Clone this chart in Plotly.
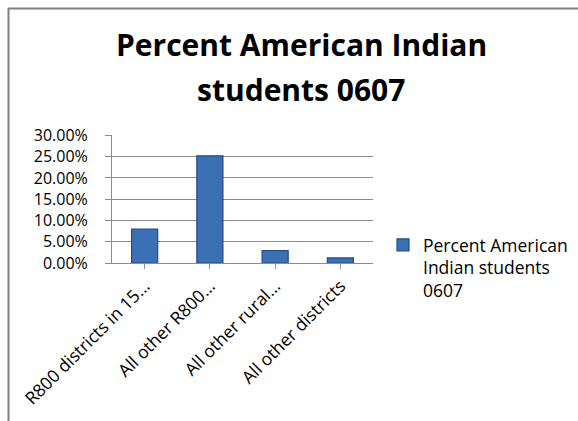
import plotly.graph_objects as go

# Chart data
categories = ["R800 districts in 15…", "All other R800…", "All other rural…", "All other districts"]
pct_values = [0.080, 0.252, 0.029, 0.012]
series_name = "Percent American<br>Indian students<br>0607"
y_ticks = [0, 0.05, 0.10, 0.15, 0.20, 0.25, 0.30]
title_lines = ["Percent American Indian", "students 0607"]

FONT = "Open Sans"
GRID = "#8c8c8c"
TXT = 17.5

fig = go.Figure()
fig.add_trace(go.Bar(
    x=categories,
    y=pct_values,
    name=series_name,
    marker=dict(color="#3c70b4", line=dict(color="#224d86", width=1.2)),
    showlegend=True,
))

# Plot area placement in pixels (578 x 421 page)
W, H = 578, 421
L, R, T, B = 112, 205, 135, 158
pw, ph = W - L - R, H - T - B

def px_x(x):
    return (x - L) / pw

def px_y(y):
    return (H - B - y) / ph

# Two-line chart title
title_centers = [44, 89]
annotations = [
    dict(text=line, xref="paper", yref="paper",
         x=px_x(301), y=px_y(cy), xanchor="center", yanchor="middle",
         showarrow=False,
         font=dict(family=FONT, size=30, color="#000000", weight="bold"))
    for line, cy in zip(title_lines, title_centers)
]

fig.update_layout(
    width=W, height=H,
    margin=dict(l=L, r=R, t=T, b=B, autoexpand=False),
    paper_bgcolor="white",
    plot_bgcolor="white",
    bargap=0.6,
    font=dict(family=FONT, color="#000000", size=TXT),
    annotations=annotations,
    legend=dict(
        x=px_x(383), xanchor="left",
        y=px_y(227), yanchor="top",
        valign="top",
        font=dict(family=FONT, size=TXT, color="#000000"),
        bgcolor="rgba(0,0,0,0)",
        itemwidth=30,
        tracegroupgap=0,
    ),
    xaxis=dict(
        showline=True, linecolor=GRID, linewidth=1,
        ticks="outside", ticklen=5, tickcolor=GRID,
        tickangle=-45,
        tickfont=dict(family=FONT, size=TXT, color="#000000"),
        showgrid=False,
    ),
    yaxis=dict(
        range=[0, 0.301],
        tickvals=y_ticks,
        tickformat=".2%",
        showline=True, linecolor=GRID, linewidth=1,
        ticks="outside", ticklen=6, tickcolor=GRID,
        ticklabelstandoff=14,
        showgrid=True, gridcolor=GRID, gridwidth=1,
        zeroline=False,
        tickfont=dict(family=FONT, size=16, color="#000000"),
    ),
    shapes=[
        # chart frame: top and left edges
        dict(type="line", xref="paper", yref="paper",
             x0=px_x(8), x1=px_x(W + 5), y0=px_y(8.5), y1=px_y(8.5),
             line=dict(color="#808080", width=2)),
        dict(type="line", xref="paper", yref="paper",
             x0=px_x(8.5), x1=px_x(8.5), y0=px_y(8), y1=px_y(H + 5),
             line=dict(color="#808080", width=2)),
    ],
)

fig.write_html("out.html")
